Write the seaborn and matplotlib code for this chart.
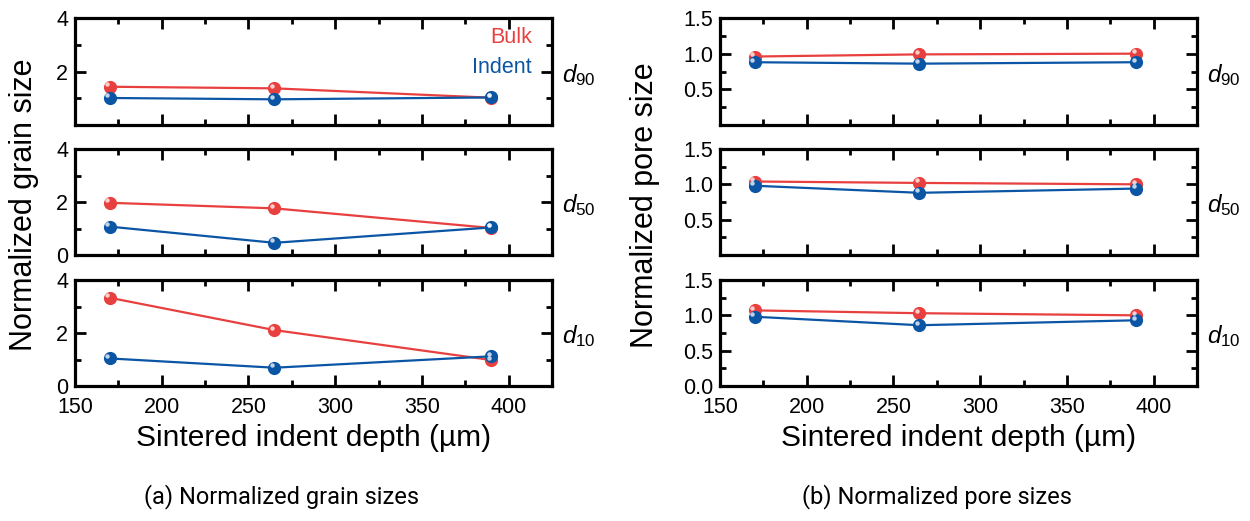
import numpy as np
import pandas as pd
import matplotlib
matplotlib.use("Agg")
import matplotlib.pyplot as plt
import matplotlib.transforms as mtransforms
from matplotlib.ticker import MultipleLocator
import seaborn as sns

# Sintered indent depths (µm)
depth = [170, 265, 390]

# Normalized grain sizes
grain_bulk = {"d90": [1.43, 1.37, 1.02], "d50": [1.97, 1.76, 1.02], "d10": [3.33, 2.11, 0.98]}
grain_indent = {"d90": [1.01, 0.96, 1.03], "d50": [1.07, 0.46, 1.04], "d10": [1.04, 0.69, 1.12]}

# Normalized pore sizes
pore_bulk = {"d90": [0.96, 0.99, 1.00], "d50": [1.04, 1.02, 1.00], "d10": [1.07, 1.03, 1.00]}
pore_indent = {"d90": [0.88, 0.86, 0.88], "d50": [0.98, 0.88, 0.94], "d10": [0.98, 0.86, 0.93]}

percentiles = ["d90", "d50", "d10"]
sub_labels = {"d90": "90", "d50": "50", "d10": "10"}
series_names = ["Bulk", "Indent"]
colors = {"Bulk": "#E8403F", "Indent": "#0B55A5"}

sns.set_theme(style="ticks")
plt.rcParams["font.family"] = ["Liberation Sans", "DejaVu Sans"]
plt.rcParams["mathtext.fontset"] = "custom"
plt.rcParams["mathtext.it"] = "Liberation Sans:italic"
plt.rcParams["mathtext.rm"] = "Liberation Sans"
for k in ("text.color", "axes.labelcolor", "xtick.color", "ytick.color", "axes.edgecolor"):
    plt.rcParams[k] = "black"

fig = plt.figure(figsize=(12.5, 5.21), dpi=100)

W = 1250.0
H = 521.0
col_left = [75, 720]
col_width = 477
rows = [(18, 125), (149, 255), (280, 386)]
ylabel_x = [24, 645]
caption_x = [282, 937]


def make_frame(bulk, indent, key):
    rows_ = []
    for name, src in (("Bulk", bulk), ("Indent", indent)):
        for x, y in zip(depth, src[key]):
            rows_.append({"depth": x, "value": y, "series": name})
    return pd.DataFrame(rows_)


def style_axes(ax, ymax, ymajor, yminor, fmt, show_zero):
    ax.set_xlim(150, 425)
    ax.set_ylim(0, ymax)
    ax.xaxis.set_major_locator(MultipleLocator(50))
    ax.xaxis.set_minor_locator(MultipleLocator(25))
    ax.yaxis.set_major_locator(MultipleLocator(ymajor))
    ax.yaxis.set_minor_locator(MultipleLocator(yminor))
    for s in ax.spines.values():
        s.set_linewidth(2.3)
        s.set_color("black")
        s.set_visible(True)
    ax.tick_params(which="both", direction="in", top=True, right=True,
                   width=2.0, color="black")
    ax.tick_params(which="major", length=8, labelsize=15.5, pad=5)
    ax.tick_params(axis="x", which="major", pad=8)
    ax.tick_params(which="minor", length=4)
    ticks = ax.get_yticks()
    labels = []
    for t in ticks:
        if abs(t) < 1e-9 and not show_zero:
            labels.append("")
        else:
            labels.append(fmt.format(t))
    ax.set_yticks(ticks)
    ax.set_yticklabels(labels)
    ax.set_ylim(0, ymax)
    ax.set_xlabel("")
    ax.set_ylabel("")


def draw_panel(ax, df):
    sns.lineplot(data=df, x="depth", y="value", hue="series",
                 hue_order=series_names, palette=colors, ax=ax,
                 linewidth=1.6, marker="o", markersize=9.5,
                 markeredgewidth=0, legend=False, sort=False)
    # small specular highlight on each sphere-like marker
    hl = mtransforms.offset_copy(ax.transData, fig=fig, x=-1.6, y=1.8, units="points")
    for name in series_names:
        sub = df[df["series"] == name]
        ax.plot(sub["depth"], sub["value"], linestyle="none", marker="o",
                markersize=3.2, markeredgewidth=0, color="white", alpha=0.75,
                transform=hl)


datasets = [
    (grain_bulk, grain_indent, 4, 2, 1, "{:.0f}", "Normalized grain size",
     "(a) Normalized grain sizes"),
    (pore_bulk, pore_indent, 1.5, 0.5, 0.25, "{:.1f}", "Normalized pore size",
     "(b) Normalized pore sizes"),
]

for c, (bulk, indent, ymax, ymaj, ymin, fmt, ylab, caption) in enumerate(datasets):
    axes = []
    for r, key in enumerate(percentiles):
        top, bot = rows[r]
        ax = fig.add_axes([col_left[c] / W, 1 - bot / H, col_width / W, (bot - top) / H])
        df = make_frame(bulk, indent, key)
        draw_panel(ax, df)
        style_axes(ax, ymax, ymaj, ymin, fmt, show_zero=(r == 2) or (c == 0 and r == 1))
        if r < 2:
            ax.set_xticklabels([])
        ax.text(1.022, 0.47, r"$d_{" + sub_labels[key] + "}$", transform=ax.transAxes,
                fontsize=17.5, ha="left", va="center")
        axes.append(ax)
    axes[-1].set_xlabel("Sintered indent depth (µm)", fontsize=21.5, labelpad=4)
    fig.text(ylabel_x[c] / W, 1 - 205 / H, ylab, rotation=90,
             fontsize=22, ha="center", va="center")
    fig.text(caption_x[c] / W, 1 - 497 / H, caption, family=["Roboto", "DejaVu Sans"],
             fontsize=17, ha="center", va="center")
    if c == 0:
        axes[0].text(0.958, 0.82, "Bulk", color=colors["Bulk"], transform=axes[0].transAxes,
                     fontsize=15.5, ha="right", va="center")
        axes[0].text(0.958, 0.54, "Indent", color=colors["Indent"], transform=axes[0].transAxes,
                     fontsize=15.5, ha="right", va="center")

fig.savefig("out.png", dpi=100)
